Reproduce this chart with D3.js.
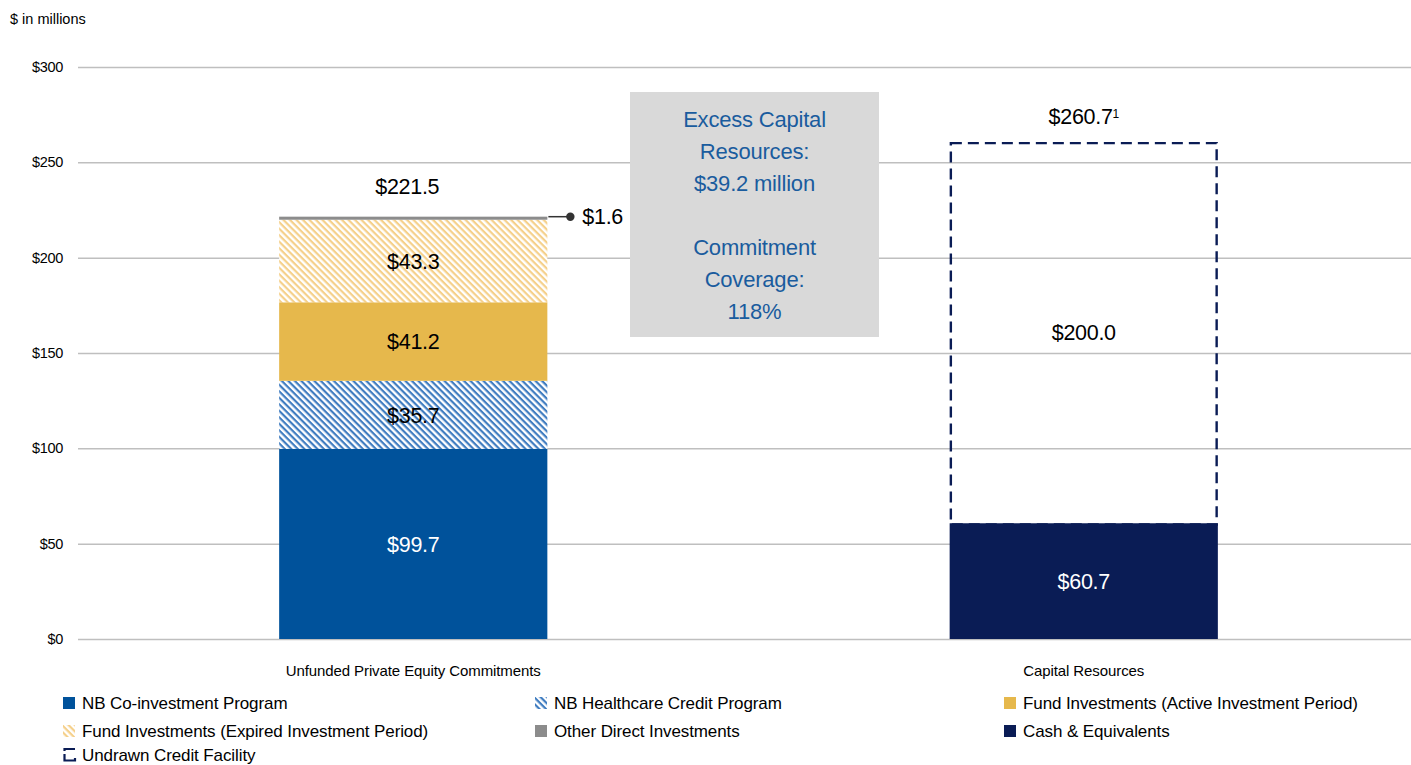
<!DOCTYPE html>
<html>
<head>
<meta charset="utf-8">
<script src="https://cdn.jsdelivr.net/npm/d3@7"></script>
<style>
  html, body { margin: 0; padding: 0; background: #ffffff; }
  svg { display: block; font-family: "Liberation Sans", Arial, sans-serif; }
</style>
</head>
<body>
<svg id="chart" width="1411" height="765"></svg>
<script>
// ---- data ----
const categories = ["Unfunded Private Equity Commitments", "Capital Resources"];

const commitmentSeries = [
  "NB Co-investment Program",
  "NB Healthcare Credit Program",
  "Fund Investments (Active Investment Period)",
  "Fund Investments (Expired Investment Period)",
  "Other Direct Investments"
];
const commitmentValues = [99.7, 35.7, 41.2, 43.3, 1.6];
const commitmentTotal = 221.5;

const resourceSeries = ["Cash & Equivalents", "Undrawn Credit Facility"];
const resourceValues = [60.7, 200.0];
const resourceTotal = 260.7;

const yTicks = [0, 50, 100, 150, 200, 250, 300];

const legendOrder = [
  "NB Co-investment Program", "NB Healthcare Credit Program", "Fund Investments (Active Investment Period)",
  "Fund Investments (Expired Investment Period)", "Other Direct Investments", "Cash & Equivalents",
  "Undrawn Credit Facility"
];

const boxLines = ["Excess Capital", "Resources:", "$39.2 million", "", "Commitment", "Coverage:", "118%"];

// ---- styles ----
const fills = {
  "NB Co-investment Program": "#00529b",
  "NB Healthcare Credit Program": "url(#hatchBlue)",
  "Fund Investments (Active Investment Period)": "#e6b84c",
  "Fund Investments (Expired Investment Period)": "url(#hatchGold)",
  "Other Direct Investments": "#8c8c8c",
  "Cash & Equivalents": "#0a1c55",
  "Undrawn Credit Facility": "none"
};
const labelColor = {
  "NB Co-investment Program": "#ffffff",
  "Cash & Equivalents": "#ffffff"
};
const navy = "#0a1c55";
const boxBlue = "#1a5c9e";
const valueFont = "21.5px";
const valueSpacing = "-0.3px";

// ---- layout ----
const svg = d3.select("#chart");
const margin = { left: 78, right: -8, top: 67, bottom: 126 };
const W = 1411, H = 765;

const x = d3.scaleBand().domain(categories)
  .range([margin.left, W - margin.right]).paddingInner(0.6).paddingOuter(0.3);
const y = d3.scaleLinear().domain([0, 300]).range([H - margin.bottom, margin.top]);

// hatch patterns
const defs = svg.append("defs");
function hatch(id, color) {
  const p = defs.append("pattern").attr("id", id)
    .attr("patternUnits", "userSpaceOnUse").attr("width", 4.6).attr("height", 4.6)
    .attr("patternTransform", "rotate(45)");
  p.append("rect").attr("width", 4.6).attr("height", 4.6).attr("fill", "#ffffff");
  p.append("rect").attr("width", 4.6).attr("height", 2.2).attr("fill", color);
}
hatch("hatchBlue", "#3f7cc0");
hatch("hatchGold", "#f5d08a");

// gridlines + y labels
const yAxis = d3.axisLeft(y).tickValues(yTicks).tickFormat(d => "$" + d)
  .tickSize(-(W - margin.left)).tickPadding(15);
const gy = svg.append("g").attr("transform", `translate(${margin.left},0)`).call(yAxis);
gy.select(".domain").remove();
gy.selectAll(".tick line").attr("stroke", "#bfbfbf").attr("stroke-width", 1.5);
gy.selectAll(".tick text").attr("fill", "#000").style("font-size", "14.5px")
  .style("letter-spacing", "-0.3px");

// unit label
svg.append("text").attr("x", 10).attr("y", 24).style("font-size", "14.5px")
  .text("$ in millions");

// category labels
svg.append("g").selectAll("text").data(categories).join("text")
  .attr("x", d => x(d) + x.bandwidth() / 2).attr("y", 676)
  .attr("text-anchor", "middle").style("font-size", "15px").style("letter-spacing", "-0.1px")
  .text(d => d);

// stacked commitments bar
const stackRow = {};
commitmentSeries.forEach((s, i) => stackRow[s] = commitmentValues[i]);
const commitStack = d3.stack().keys(commitmentSeries)([stackRow]);
const c0 = categories[0];
const gC = svg.append("g");
gC.selectAll("rect").data(commitStack).join("rect")
  .attr("x", x(c0)).attr("width", x.bandwidth())
  .attr("y", d => y(d[0][1])).attr("height", d => y(d[0][0]) - y(d[0][1]))
  .attr("fill", d => fills[d.key]);
gC.selectAll("text").data(commitStack.filter(d => d[0][1] - d[0][0] > 10)).join("text")
  .attr("x", x(c0) + x.bandwidth() / 2)
  .attr("y", d => y((d[0][0] + d[0][1]) / 2))
  .attr("dy", "0.36em").attr("text-anchor", "middle")
  .attr("fill", d => labelColor[d.key] || "#000")
  .style("font-size", valueFont).style("letter-spacing", valueSpacing)
  .text(d => "$" + (d[0][1] - d[0][0]).toFixed(1));

// callout for the thin top segment
const small = commitStack[commitStack.length - 1];
const smallY = y((small[0][0] + small[0][1]) / 2) - 1.5;
const barRight = x(c0) + x.bandwidth();
gC.append("line").attr("x1", barRight + 1).attr("x2", barRight + 22)
  .attr("y1", smallY).attr("y2", smallY).attr("stroke", "#333").attr("stroke-width", 1.5);
gC.append("circle").attr("cx", barRight + 23).attr("cy", smallY).attr("r", 4.2).attr("fill", "#333");
gC.append("text").attr("x", barRight + 35).attr("y", smallY).attr("dy", "0.36em")
  .style("font-size", valueFont).style("letter-spacing", valueSpacing)
  .text("$" + commitmentValues[commitmentValues.length - 1].toFixed(1));

// total above commitments
gC.append("text").attr("x", x(c0) + x.bandwidth() / 2 - 6).attr("y", y(commitmentTotal) - 30)
  .attr("dy", "0.36em").attr("text-anchor", "middle")
  .style("font-size", valueFont).style("letter-spacing", valueSpacing)
  .text("$" + commitmentTotal.toFixed(1));

// capital resources bar
const resRow = {};
resourceSeries.forEach((s, i) => resRow[s] = resourceValues[i]);
const resStack = d3.stack().keys(resourceSeries)([resRow]);
const c1 = categories[1];
const gR = svg.append("g");
const isFrame = d => d.key === "Undrawn Credit Facility";
gR.selectAll("rect").data(resStack).join("rect")
  .attr("x", d => isFrame(d) ? x(c1) + 1.2 : x(c1))
  .attr("width", d => isFrame(d) ? x.bandwidth() - 2.4 : x.bandwidth())
  .attr("y", d => y(d[0][1]) + (isFrame(d) ? 1.2 : 0))
  .attr("height", d => y(d[0][0]) - y(d[0][1]))
  .attr("fill", d => fills[d.key])
  .attr("stroke", d => isFrame(d) ? navy : "none")
  .attr("stroke-width", 2.4)
  .attr("stroke-dasharray", d => isFrame(d) ? "11,6" : null);
// cash bar sits over the dashed frame's lower edge
gR.selectAll("rect").filter(d => d.key === "Cash & Equivalents").raise();
gR.selectAll("text.seg").data(resStack).join("text").attr("class", "seg")
  .attr("x", x(c1) + x.bandwidth() / 2)
  .attr("y", d => y((d[0][0] + d[0][1]) / 2))
  .attr("dy", "0.36em").attr("text-anchor", "middle")
  .attr("fill", d => labelColor[d.key] || "#000")
  .style("font-size", valueFont).style("letter-spacing", valueSpacing)
  .text(d => "$" + (d[0][1] - d[0][0]).toFixed(1));

const tot = gR.append("text").attr("x", x(c1) + x.bandwidth() / 2).attr("y", y(resourceTotal) - 26)
  .attr("dy", "0.36em").attr("text-anchor", "middle")
  .style("font-size", valueFont).style("letter-spacing", valueSpacing);
tot.append("tspan").text("$" + resourceTotal.toFixed(1));
tot.append("tspan").attr("dy", "-0.45em").style("font-size", "12px").text("1");

// summary box
const box = svg.append("g").attr("transform", "translate(630,92)");
box.append("rect").attr("width", 249).attr("height", 245).attr("fill", "#d9d9d9");
box.selectAll("text").data(boxLines).join("text")
  .attr("x", 124.5).attr("y", (d, i) => 27 + i * 32).attr("dy", "0.36em")
  .attr("text-anchor", "middle").attr("fill", boxBlue)
  .style("font-size", "22px").style("letter-spacing", "-0.2px")
  .text(d => d);

// legend
const legendCols = [63, 535, 1004];
const legendRows = [703, 731, 755];
const lg = svg.append("g").selectAll("g").data(legendOrder).join("g")
  .attr("transform", (d, i) => `translate(${legendCols[i % 3]},${legendRows[Math.floor(i / 3)]})`);
lg.each(function (d) {
  const g = d3.select(this);
  if (d === "Undrawn Credit Facility") {
    g.append("path").attr("d", "M1.5,-4 V-6 H12 M1.5,-1 V5.5 H12 V3")
      .attr("fill", "none").attr("stroke", navy).attr("stroke-width", 2.2);
  } else {
    g.append("rect").attr("x", 0).attr("y", -6).attr("width", 12).attr("height", 12)
      .attr("fill", fills[d]);
  }
  g.append("text").attr("x", 19).attr("y", 0).attr("dy", "0.36em")
    .style("font-size", "17px").style("letter-spacing", "-0.1px").text(d);
});
</script>
</body>
</html>
